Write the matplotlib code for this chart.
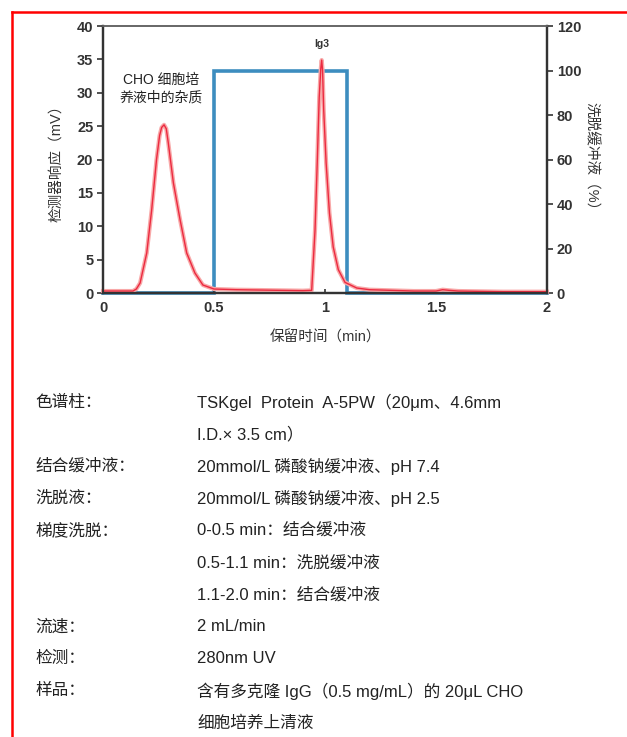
import matplotlib
matplotlib.use('Agg')
import matplotlib.pyplot as plt
from matplotlib import font_manager
from matplotlib.lines import Line2D

plt.rcParams['font.family'] = ['Liberation Sans', 'Noto Sans CJK SC', 'DejaVu Sans']

# chromatogram (detector response, mV)
t_sig = [0.0, 0.05, 0.10, 0.135, 0.15, 0.167, 0.197, 0.219, 0.241, 0.255, 0.264, 0.275,
         0.285, 0.294, 0.317, 0.347, 0.377, 0.414, 0.45, 0.50, 0.60, 0.70, 0.80, 0.90,
         0.94, 0.955, 0.965, 0.974, 0.981, 0.985, 0.989, 0.994, 1.005, 1.02, 1.037, 1.06, 1.09,
         1.143, 1.20, 1.30, 1.40, 1.50, 1.53, 1.56, 1.60, 1.70, 1.80, 1.90, 2.0]
mv = [0.3, 0.3, 0.3, 0.3, 0.6, 1.5, 6.0, 12.4, 20.0, 23.6, 24.8, 25.2,
      24.6, 22.5, 16.5, 11.0, 6.0, 3.0, 1.2, 0.6, 0.5, 0.45, 0.4, 0.35,
      0.4, 9.4, 19.5, 29.4, 33.6, 34.9, 33.4, 27.5, 19.5, 12.0, 6.9, 3.5, 1.6,
      0.75, 0.5, 0.4, 0.3, 0.3, 0.5, 0.4, 0.3, 0.25, 0.2, 0.2, 0.2]

# elution buffer gradient (%)
t_grad = [0.0, 0.5, 0.5, 1.1, 1.1, 2.0]
pct = [0, 0, 100, 100, 0, 0]

left_ticks = [0, 5, 10, 15, 20, 25, 30, 35, 40]
right_ticks = [0, 20, 40, 60, 80, 100, 120]
x_ticks = [0, 0.5, 1, 1.5, 2]
x_labels = ['0', '0.5', '1', '1.5', '2']

conditions = [
    ('色谱柱：', 'TSKgel  Protein  A-5PW（20μm、4.6mm'),
    ('', 'I.D.× 3.5 cm）'),
    ('结合缓冲液：', '20mmol/L 磷酸钠缓冲液、pH 7.4'),
    ('洗脱液：', '20mmol/L 磷酸钠缓冲液、pH 2.5'),
    ('梯度洗脱：', '0-0.5 min：结合缓冲液'),
    ('', '0.5-1.1 min：洗脱缓冲液'),
    ('', '1.1-2.0 min：结合缓冲液'),
    ('流速：', '2 mL/min'),
    ('检测：', '280nm UV'),
    ('样品：', '含有多克隆 IgG（0.5 mg/mL）的 20μL CHO'),
    ('', '细胞培养上清液'),
]

names = {f.name for f in font_manager.fontManager.ttflist}
if 'Liberation Sans Narrow' in names:
    tick_font = dict(family='Liberation Sans Narrow', weight='bold')
else:
    tick_font = dict(family='Liberation Sans', weight='bold')

fig = plt.figure(figsize=(6.27, 7.37), dpi=100)
ax = fig.add_axes([0.1643, 0.6024, 0.7081, 0.3623])
ax2 = ax.twinx()
ax2.set_zorder(ax.get_zorder() - 1)
ax.patch.set_visible(False)

ax2.plot(t_grad, pct, color='#3d8dbf', linewidth=2.6, clip_on=False, solid_joinstyle='miter')
ax.plot(t_sig, mv, color='#f8a8a8', linewidth=3.0, clip_on=False)
ax.plot(t_sig, mv, color='#ec2a40', linewidth=1.0, clip_on=False)

ax.set_xlim(0, 2)
ax.set_ylim(0, 40)
ax2.set_ylim(0, 120)

ax.set_xticks(x_ticks)
ax.set_xticklabels(x_labels, fontsize=10.5, color='#333333', **tick_font)
ax.set_yticks(left_ticks)
ax.set_yticklabels([str(v) for v in left_ticks], fontsize=10.5, color='#333333', **tick_font)
ax2.set_yticks(right_ticks)
ax2.set_yticklabels([str(v) for v in right_ticks], fontsize=10.5, color='#333333', **tick_font)

ax.tick_params(axis='x', direction='in', length=3, width=1.2, color='#333333', pad=6)
ax.tick_params(axis='y', direction='out', length=4, width=1.2, color='#333333', pad=3)
ax2.tick_params(axis='y', direction='out', length=4, width=1.2, color='#333333', pad=3)

for a in (ax, ax2):
    for s in a.spines.values():
        s.set_color('#333333')
        s.set_linewidth(1.6)
    a.spines['top'].set_color('#666666')
    a.spines['top'].set_linewidth(1.2)

ax.set_ylabel('检测器响应（mV）', fontsize=10.5, color='#333333', labelpad=10)
ax2.set_ylabel('洗脱缓冲液（%）', fontsize=10.5, color='#333333', rotation=270, labelpad=12)
ax.set_xlabel('保留时间（min）', fontsize=10.5, color='#333333', labelpad=11)

ax.text(0.26, 30.6, 'CHO 细胞培\n养液中的杂质', fontsize=10, color='#222222',
        ha='center', va='center', linespacing=1.3)
ax.text(0.985, 37.3, 'Ig3', fontsize=7.5, color='#333333', ha='center', va='center', **tick_font)

# experimental conditions below the chart
y0 = 737 - 402
for i, (k, v) in enumerate(conditions):
    y = (y0 - i * 32.1) / 737
    if k:
        fig.text(35 / 627, y, k, fontsize=12, color='#222222', va='center')
    fig.text(197 / 627, y, v, fontsize=12, color='#222222', va='center')

# red frame on the left and top
fig.add_artist(Line2D([12 / 627, 12 / 627], [0, 1 - 12 / 737], color='#ff0000', linewidth=1.8))
fig.add_artist(Line2D([12 / 627, 1], [1 - 12 / 737, 1 - 12 / 737], color='#ff0000', linewidth=1.8))

fig.savefig('out.png', dpi=100)
